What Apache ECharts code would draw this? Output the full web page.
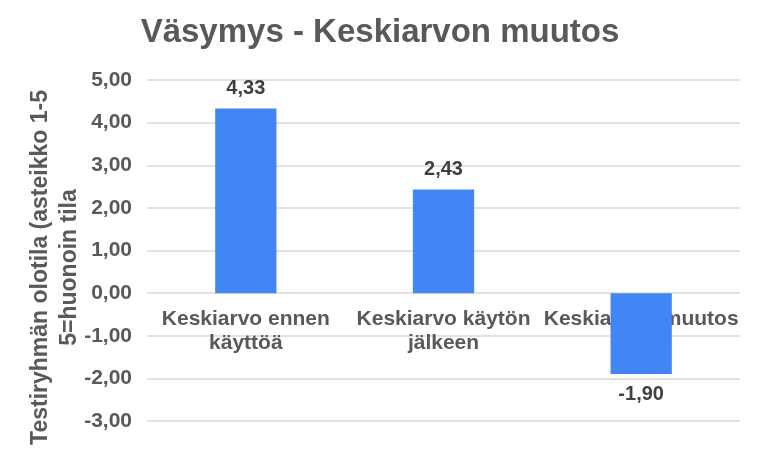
<!DOCTYPE html>
<html><head><meta charset="utf-8">
<script src="https://cdn.jsdelivr.net/npm/echarts@6/dist/echarts.min.js"></script>
<style>html,body{margin:0;padding:0;background:#fff}#c{width:760px;height:475px}</style>
</head><body><div id="c"></div>
<script>
const categories = ['Keskiarvo ennen\nkäyttöä', 'Keskiarvo käytön\njälkeen', 'Keskiarvon muutos'];
const values = [4.33, 2.43, -1.90];
const titleText = 'Väsymys - Keskiarvon muutos';
const yName = 'Testiryhmän olotila (asteikko 1-5\n5=huonoin tila';
const fmt = v => v.toFixed(2).replace('.', ',');
const yMin = -3, yMax = 5;
const gridTop = 80, gridBottom = 54, H = 475;
const zeroOffset = -(H - gridTop - gridBottom) * (0 - yMin) / (yMax - yMin);
const chart = echarts.init(document.getElementById('c'));
chart.setOption({
  animation: false,
  title: {text: titleText, left: 'center', top: 11,
    textStyle: {fontFamily: 'Liberation Sans', fontSize: 33, fontWeight: 'bold', color: '#595959'}},
  grid: {left: 147, right: 20, top: gridTop, bottom: gridBottom, containLabel: false, outerBoundsMode: 'none'},
  xAxis: {type: 'category', data: categories, offset: zeroOffset,
    axisLine: {show: false, onZero: false},
    axisTick: {show: false},
    axisLabel: {interval: 0, margin: 14, lineHeight: 24,
      fontFamily: 'Liberation Sans', fontSize: 21, fontWeight: 'bold', color: '#595959'}},
  yAxis: {type: 'value', min: yMin, max: yMax, interval: 1,
    name: yName, nameLocation: 'middle', nameGap: 63, nameRotate: 90, nameMoveOverlap: false,
    nameTextStyle: {fontFamily: 'Liberation Sans', fontSize: 23, fontWeight: 'bold', color: '#595959', lineHeight: 29, padding: [0, 34, 0, 0]},
    axisLine: {show: false}, axisTick: {show: false},
    splitLine: {lineStyle: {color: '#d9d9d9', width: 1.5}},
    axisLabel: {formatter: fmt, margin: 15,
      fontFamily: 'Liberation Sans', fontSize: 21, fontWeight: 'bold', color: '#595959'}},
  series: [{type: 'bar', barWidth: '31%',
    data: values.map(v => ({value: v, label: {position: v >= 0 ? 'top' : 'bottom'}})),
    itemStyle: {color: '#4285F4'},
    label: {show: true, distance: 10, formatter: p => fmt(p.value),
      fontFamily: 'Liberation Sans', fontSize: 20, fontWeight: 'bold', color: '#404040'}}]
});
</script></body></html>
